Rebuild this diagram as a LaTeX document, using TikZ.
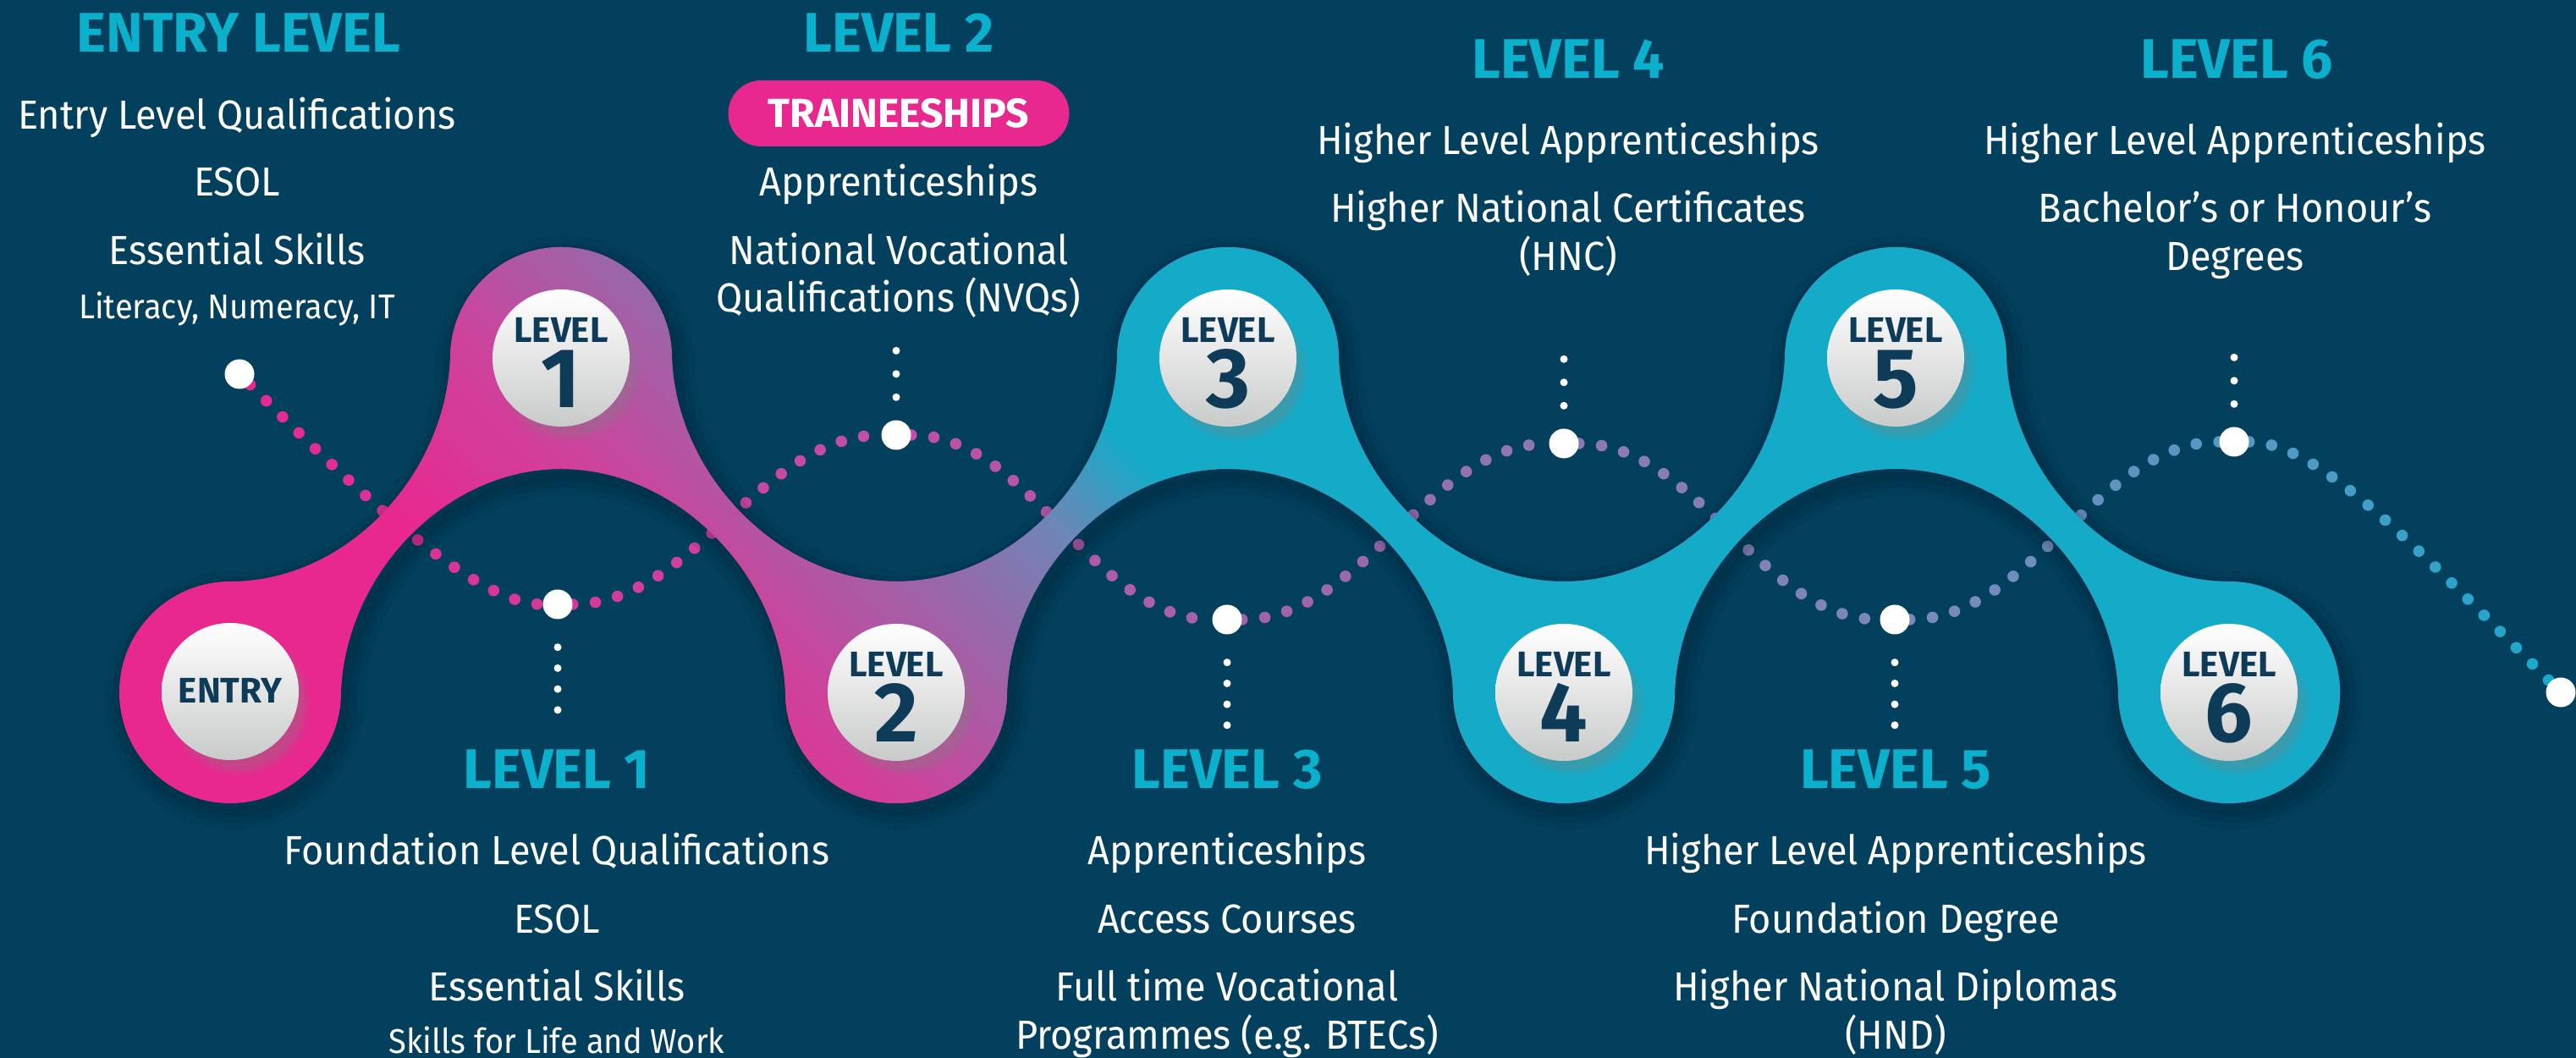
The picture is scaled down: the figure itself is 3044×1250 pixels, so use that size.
\documentclass[tikz,border=0pt]{standalone}
\usepackage{fontspec}
\setmainfont{Fira Sans}[FakeStretch=0.94]
\newfontfamily\headf{Fira Sans}
\usetikzlibrary{shadows,decorations.markings,fadings}
\definecolor{bg}{HTML}{02405E}
\definecolor{headc}{HTML}{0BB0CD}
\definecolor{pinkc}{HTML}{E8288F}
\definecolor{magc}{HTML}{CC449C}
\definecolor{purpc}{HTML}{A062A8}
\definecolor{slatec}{HTML}{6E86B6}
\definecolor{cyanc}{HTML}{14ABC8}
\definecolor{navyc}{HTML}{0E3C58}
\definecolor{cgray}{HTML}{C9CBCA}
\definecolor{dA}{HTML}{E42A90}
\definecolor{dB}{HTML}{D63898}
\definecolor{dC}{HTML}{C050A4}
\definecolor{dD}{HTML}{A462AA}
\definecolor{dE}{HTML}{8C78B4}
\definecolor{dF}{HTML}{7A88BA}
\definecolor{dG}{HTML}{5698C4}
\definecolor{dH}{HTML}{18A9CC}
\pgfdeclarelayer{back}
\pgfdeclarelayer{mid}
\pgfsetlayers{back,mid,main}
\def\blobpath{(141,432) arc[start angle=180,end angle=90,radius=131]
  .. controls (411,563) and (527,690) .. (532,827)
  arc[start angle=180,end angle=0,radius=131]
  .. controls (799,690) and (920,563) .. (1059,563)
  .. controls (1198,563) and (1315,690) .. (1320,827)
  arc[start angle=180,end angle=0,radius=131]
  .. controls (1587,690) and (1709,563) .. (1848,563)
  .. controls (1987,563) and (2104,690) .. (2109,827)
  arc[start angle=180,end angle=0,radius=131]
  .. controls (2376,690) and (2495,563) .. (2634,563)
  arc[start angle=90,end angle=-180,radius=131]
  .. controls (2498,569) and (2379,696) .. (2240,696)
  .. controls (2101,696) and (1984,569) .. (1979,432)
  arc[start angle=0,end angle=-180,radius=131]
  .. controls (1712,569) and (1590,696) .. (1451,696)
  .. controls (1312,696) and (1195,569) .. (1190,432)
  arc[start angle=0,end angle=-180,radius=131]
  .. controls (923,569) and (802,696) .. (663,696)
  .. controls (524,696) and (408,569) .. (403,432)
  arc[start angle=0,end angle=-180,radius=131]
  -- cycle}
\begin{document}
\begin{tikzpicture}[x=1pt,y=1pt,
  txt/.style={text=white, font=\fontsize{48}{48}\selectfont, anchor=base, inner sep=0pt},
  smalltxt/.style={text=white, font=\fontsize{40.5}{40.5}\selectfont, anchor=base, inner sep=0pt},
  head/.style={text=headc, font=\headf\fontsize{66}{66}\selectfont\bfseries, anchor=base, inner sep=0pt},
  lvlword/.style={text=navyc, font=\headf\fontsize{42}{42}\selectfont\bfseries, anchor=base, inner sep=0pt},
  lvlnum/.style={text=navyc, font=\headf\fontsize{100}{100}\selectfont\bfseries, anchor=base, inner sep=0pt},
  lvl/.style={circle, minimum size=162pt, inner sep=0pt, top color=white, bottom color=cgray,
     circular drop shadow={shadow xshift=9pt, shadow yshift=-13pt, shadow scale=1.06, opacity=0.35}},
  bigdot/.style={circle, fill=white, minimum size=35pt, inner sep=0pt},
  pill/.style={fill=pinkc, rounded corners=39pt, minimum width=403pt, minimum height=78pt, inner sep=0pt,
     text=white, font=\headf\fontsize{48}{48}\selectfont\bfseries},
  vdotsdown/.style={white, line width=9pt, line cap=round, dash pattern=on 0pt off 24.7pt, shorten <=33pt},
  vdotsup/.style={white, line width=9pt, line cap=round, dash pattern=on 0pt off 27.5pt, shorten <=27pt},
  dotseg/.style 2 args={postaction={decorate, decoration={markings,
     mark=between positions 0 and 1 step 27pt with {%
       \pgfmathsetmacro\dfrac{\pgfkeysvalueof{/pgf/decoration/mark info/distance from start}/\pgfdecoratedpathlength}%
       \pgfmathtruncatemacro\dpct{100*\dfrac}%
       \fill[#2!\dpct!#1] (0,0) circle[radius=6.8pt];}}}},
  blobshadow/.style={black, line join=round, shift={(5,-9)}}
]
\useasboundingbox (0,0) rectangle (3044,1250);

% ---------- main layer: nodes ----------
\node[bigdot] (D0) at (283,808) {};
\node[bigdot] (D1) at (659,536) {};
\node[bigdot] (D2) at (1059,736) {};
\node[bigdot] (D3) at (1450,518) {};
\node[bigdot] (D4) at (1848,726) {};
\node[bigdot] (D5) at (2239,518) {};
\node[bigdot] (D6) at (2640,728) {};
\node[bigdot] (D7) at (3026,432) {};

\coordinate (v1) at (659,409);
\coordinate (v2) at (1059,838);
\coordinate (v3) at (1450,391);
\coordinate (v4) at (1848,828);
\coordinate (v5) at (2239,391);
\coordinate (v6) at (2640,830);
\draw[vdotsdown] (D1) -- (v1);
\draw[vdotsup] (D2) -- (v2);
\draw[vdotsdown] (D3) -- (v3);
\draw[vdotsup] (D4) -- (v4);
\draw[vdotsdown] (D5) -- (v5);
\draw[vdotsup] (D6) -- (v6);

\node[lvl] (cE) at (272,433) {};
\node[lvl] (c1) at (663,827) {};
\node[lvl] (c2) at (1059,432) {};
\node[lvl] (c3) at (1451,827) {};
\node[lvl] (c4) at (1848,432) {};
\node[lvl] (c5) at (2240,827) {};
\node[lvl] (c6) at (2634,432) {};

\node[lvlword] (cEw) at (272,419) {ENTRY};
\node[lvlword] (c1w) at (663,845) {LEVEL};
\node[lvlnum]  (c1n) at (663,768) {1};
\node[lvlword] (c2w) at (1059,450) {LEVEL};
\node[lvlnum]  (c2n) at (1059,373) {2};
\node[lvlword] (c3w) at (1451,845) {LEVEL};
\node[lvlnum]  (c3n) at (1451,768) {3};
\node[lvlword] (c4w) at (1848,450) {LEVEL};
\node[lvlnum]  (c4n) at (1848,373) {4};
\node[lvlword] (c5w) at (2240,845) {LEVEL};
\node[lvlnum]  (c5n) at (2240,768) {5};
\node[lvlword] (c6w) at (2634,450) {LEVEL};
\node[lvlnum]  (c6n) at (2634,373) {6};

% ---------- texts: top ----------
\node[head] (hE) at (282,1188) {ENTRY LEVEL};
\node[txt] (tE1) at (280,1097) {Entry Level Qualifications};
\node[txt] (tE2) at (280,1018) {ESOL};
\node[txt] (tE3) at (280,937) {Essential Skills};
\node[smalltxt] (tE4) at (280,873) {Literacy, Numeracy, IT};

\node[head] (h2) at (1062,1188) {LEVEL 2};
\node[pill] (tr) at (1062,1116) {TRAINEESHIPS};
\node[txt] (t21) at (1062,1018) {Apprenticeships};
\node[txt] (t22) at (1062,937) {National Vocational};
\node[txt] (t23) at (1062,881) {Qualifications (NVQs)};

\node[head] (h4) at (1853,1157) {LEVEL 4};
\node[txt] (t41) at (1853,1067) {Higher Level Apprenticeships};
\node[txt] (t42) at (1853,987) {Higher National Certificates};
\node[txt] (t43) at (1853,930) {(HNC)};

\node[head] (h6) at (2643,1157) {LEVEL 6};
\node[txt] (t61) at (2641,1067) {Higher Level Apprenticeships};
\node[txt] (t62) at (2641,987) {Bachelor’s or Honour’s};
\node[txt] (t63) at (2641,930) {Degrees};

% ---------- texts: bottom ----------
\node[head] (h1) at (658,318) {LEVEL 1};
\node[txt] (t11) at (658,228) {Foundation Level Qualifications};
\node[txt] (t12) at (658,147) {ESOL};
\node[txt] (t13) at (658,67) {Essential Skills};
\node[smalltxt] (t14) at (658,5) {Skills for Life and Work};

\node[head] (h3) at (1450,318) {LEVEL 3};
\node[txt] (t31) at (1450,228) {Apprenticeships};
\node[txt] (t32) at (1450,147) {Access Courses};
\node[txt] (t33) at (1450,67) {Full time Vocational};
\node[txt] (t34) at (1450,10) {Programmes (e.g. BTECs)};

\node[head] (h5) at (2240,318) {LEVEL 5};
\node[txt] (t51) at (2240,228) {Higher Level Apprenticeships};
\node[txt] (t52) at (2240,147) {Foundation Degree};
\node[txt] (t53) at (2240,67) {Higher National Diplomas};
\node[txt] (t54) at (2240,10) {(HND)};

% ---------- back layer: background + dotted wave ----------
\begin{pgfonlayer}{back}
\fill[bg] (0,0) rectangle (3044,1250);
\path[dotseg={dA}{dB}] (D0) .. controls (453,638) and (569,536) .. (D1);
\path[dotseg={dB}{dC}] (D1) .. controls (819,536) and (899,736) .. (D2);
\path[dotseg={dC}{dD}] (D2) .. controls (1219,736) and (1290,518) .. (D3);
\path[dotseg={dD}{dE}] (D3) .. controls (1610,518) and (1688,726) .. (D4);
\path[dotseg={dE}{dF}] (D4) .. controls (2008,726) and (2079,518) .. (D5);
\path[dotseg={dF}{dG}] (D5) .. controls (2399,518) and (2480,728) .. (D6);
\path[dotseg={dG}{dH}] (D6) .. controls (2740,728) and (2856,602) .. (D7);
\draw[blobshadow, opacity=0.05, line width=44pt] \blobpath;
\draw[blobshadow, opacity=0.06, line width=28pt] \blobpath;
\draw[blobshadow, opacity=0.08, line width=12pt] \blobpath;
\end{pgfonlayer}

% ---------- mid layer: the ribbon ----------
\begin{pgfonlayer}{mid}
\begin{scope}
\clip \blobpath;
\fill[pinkc] (0,0) rectangle (3044,1250);
\fill[cyanc] (2050,0) -- (3100,0) -- (3100,1250) -- (800,1250) -- cycle;
\foreach \s in {-150,-140,...,140}{
  \pgfmathtruncatemacro\pp{(\s+150)/3}
  \fill[magc!\pp!pinkc] (\s+1250,0) -- (\s+1261,0) -- (\s+11,1250) -- (\s,1250) -- cycle;}
\foreach \s in {150,160,...,370}{
  \pgfmathtruncatemacro\pp{(\s-150)/2.3}
  \fill[purpc!\pp!magc] (\s+1250,0) -- (\s+1261,0) -- (\s+11,1250) -- (\s,1250) -- cycle;}
\foreach \s in {380,390,...,610}{
  \pgfmathtruncatemacro\pp{(\s-380)/2.4}
  \fill[slatec!\pp!purpc] (\s+1250,0) -- (\s+1261,0) -- (\s+11,1250) -- (\s,1250) -- cycle;}
\foreach \s in {620,630,...,790}{
  \pgfmathtruncatemacro\pp{(\s-620)/1.8}
  \fill[cyanc!\pp!slatec] (\s+1250,0) -- (\s+1261,0) -- (\s+11,1250) -- (\s,1250) -- cycle;}
\end{scope}
\end{pgfonlayer}
\end{tikzpicture}
\end{document}
